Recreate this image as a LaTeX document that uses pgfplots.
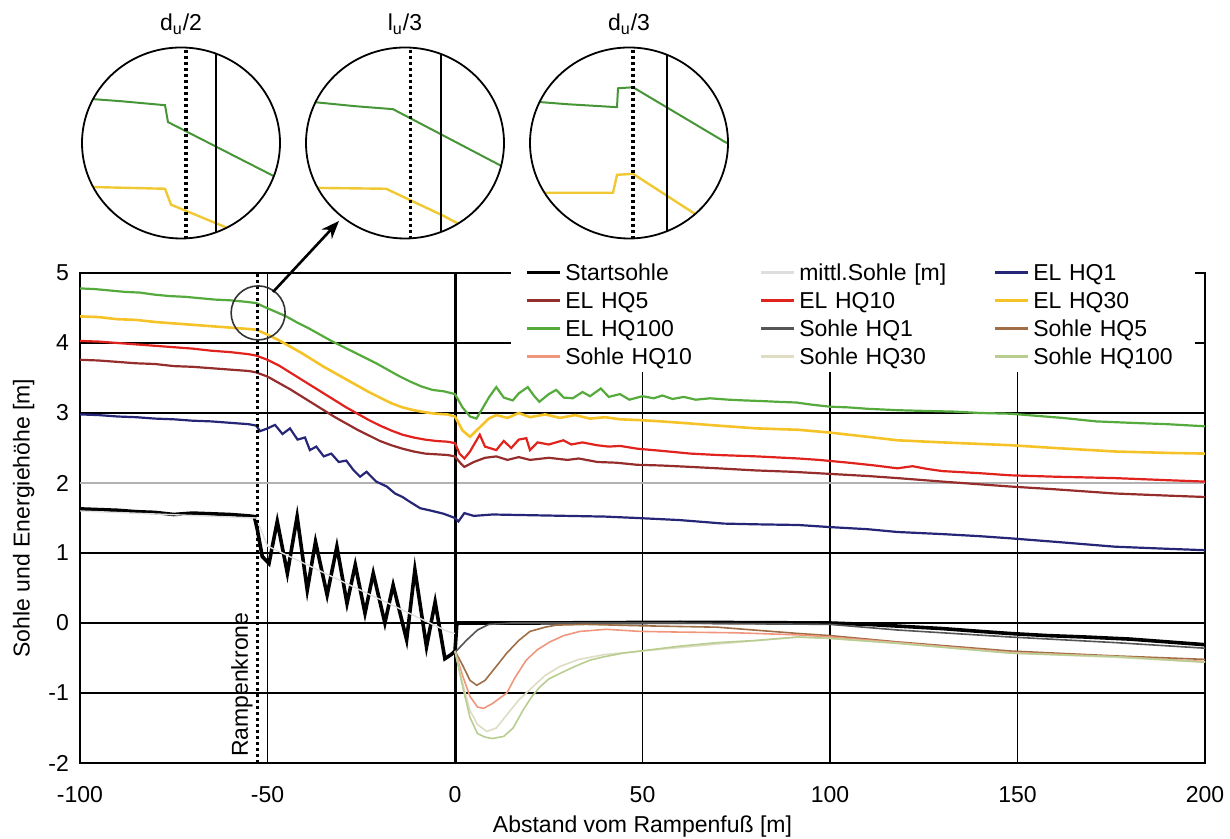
\documentclass[border=0pt]{standalone}
\usepackage{fontspec}
\setmainfont{Liberation Sans}
\usepackage{pgfplots}
\pgfplotsset{compat=1.18}
\usetikzlibrary{arrows.meta}

\definecolor{cHQ1}{RGB}{38,38,120}
\definecolor{cHQ5}{RGB}{150,45,45}
\definecolor{cHQ10}{RGB}{225,35,30}
\definecolor{cHQ30}{RGB}{245,195,40}
\definecolor{cHQ100}{RGB}{85,170,60}
\definecolor{sHQ1}{RGB}{85,85,85}
\definecolor{sHQ5}{RGB}{160,110,70}
\definecolor{sHQ10}{RGB}{240,150,125}
\definecolor{sHQ30}{RGB}{222,220,195}
\definecolor{sHQ100}{RGB}{185,205,145}
\definecolor{mittl}{RGB}{222,222,222}
\definecolor{igreen}{RGB}{70,150,55}
\definecolor{iyellow}{RGB}{240,200,50}

\pgfplotsset{inset/.style={anchor=center,width=99pt,height=95.5pt,scale only axis,
  xmin=-99,xmax=99,ymin=-96,ymax=96,y dir=reverse,hide axis,no markers}}

\begin{document}
\begin{tikzpicture}[font=\fontsize{11.5}{13}\selectfont]
\path[use as bounding box] (0pt,0pt) rectangle (615pt,419.5pt);

\begin{axis}[at={(40pt,38pt)},anchor=south west,
  width=562.5pt,height=245pt,scale only axis,
  xmin=-100,xmax=200,ymin=-2,ymax=5,
  xtick={-100,-50,...,200},ytick={-2,-1,...,5},
  grid=major,major grid style={black,line width=0.75pt},
  axis line style={black,line width=0.9pt},
  tick style={draw=none},no markers,
  /pgf/number format/assume math mode=true,
  xticklabel style={yshift=-8pt},
  yticklabel style={xshift=-2pt},
  xlabel={Abstand vom Rampenfuß [m]},
  ylabel={Sohle und Energiehöhe [m]},
  x label style={at={(axis description cs:0.5,0)},anchor=center,yshift=-32pt},
  y label style={at={(axis description cs:-0.05,0.5)},anchor=center},
  legend columns=3,
  legend image code/.code={\draw[#1,line width=1.5pt] (0pt,0pt) -- (16.5pt,0pt);},
  legend style={at={(axis description cs:0.383,1.035)},anchor=north west,
    draw=none,fill=white,inner xsep=7pt,inner ysep=2pt,row sep=2pt,
    nodes={inner xsep=2pt,inner ysep=1pt,text height=8.9pt,text depth=1.1pt,
      text width=95pt,align=left,anchor=west},
    /tikz/column 6/.style={nodes={text width=72pt}}},
  legend cell align=left]

\draw[gray!60,line width=0.9pt] (axis cs:-100,2) -- (axis cs:200,2);
\draw[black,line width=1.5pt] (axis cs:0,-2) -- (axis cs:0,5);

% Startsohle
\addplot[black,line width=1.8pt] coordinates {
(-100,1.63) (-95,1.62) (-90,1.61) (-85,1.59) (-80,1.58) (-75,1.55) (-70,1.57)
(-65,1.56) (-60,1.55) (-55,1.53) (-53.5,1.52) (-52.7,1.33) (-51.4,0.95)
(-49.6,0.85) (-47.4,1.45) (-44.7,0.71) (-42.1,1.52) (-39.4,0.47) (-37.2,1.16)
(-34.1,0.40) (-31.5,1.09) (-28.8,0.28) (-26.6,0.83) (-24.0,0.14) (-21.8,0.71)
(-18.7,0.0) (-16.5,0.54) (-12.9,-0.24) (-10.7,0.76) (-7.6,-0.34) (-5.3,0.30)
(-2.7,-0.51) (-1,-0.45) (0,-0.40) (0.5,0) (20,0) (60,0.01) (100,0) (110,-0.02)
(120,-0.05) (130,-0.08) (140,-0.12) (148,-0.15) (158,-0.18) (168,-0.2)
(180,-0.23) (190,-0.27) (200,-0.31)};
\addlegendentry{Startsohle}

% mittl. Sohle
\addplot[mittl,line width=0.7pt] coordinates {
(-100,1.6) (-53,1.5) (-50,1.1) (-2,-0.12) (0,-0.15)};
\addlegendentry{mittl.Sohle [m]}

% EL HQ1
\addplot[cHQ1,line width=1.1pt] coordinates {
(-100,2.98) (-95,2.97) (-90,2.95) (-85,2.94) (-80,2.92) (-75,2.91) (-70,2.89)
(-65,2.88) (-60,2.86) (-55,2.84) (-53,2.82) (-52,2.74) (-50,2.78) (-48,2.83)
(-46,2.70) (-44,2.78) (-42,2.62) (-40,2.65) (-38.7,2.47) (-37,2.52) (-35,2.38)
(-33,2.42) (-31,2.30) (-29,2.32) (-27,2.18) (-25.3,2.09) (-23.6,2.16) (-21,2.02)
(-18.2,1.95) (-16,1.85) (-14,1.80) (-12,1.73) (-9.3,1.64) (-6,1.60) (-3,1.56)
(0,1.50) (0.9,1.45) (2.5,1.57) (5,1.53) (10,1.55) (20,1.54) (30,1.53) (40,1.52)
(48.6,1.50) (60,1.47) (71.7,1.42) (80,1.41) (91.6,1.40) (100,1.37) (110,1.34)
(118,1.30) (130,1.27) (140,1.24) (148,1.21) (160,1.16) (176,1.09) (190,1.06)
(200,1.04)};
\addlegendentry{EL HQ1}

% EL HQ5
\addplot[cHQ5,line width=1.1pt] coordinates {
(-100,3.76) (-95,3.75) (-90,3.73) (-85,3.71) (-80,3.70) (-75,3.67) (-70,3.66)
(-65,3.64) (-60,3.62) (-55,3.60) (-53,3.58) (-50,3.52) (-47,3.43) (-44,3.34)
(-41,3.24) (-38,3.14) (-35,3.04) (-32,2.94) (-29,2.85) (-26,2.76) (-23,2.68)
(-20,2.60) (-17,2.54) (-14,2.49) (-11,2.45) (-8,2.42) (-5,2.41) (-2,2.40)
(0,2.38) (1.5,2.28) (2.5,2.23) (5,2.30) (8,2.36) (11,2.38) (14,2.33) (17,2.37)
(20,2.33) (25,2.36) (30,2.33) (33,2.35) (38,2.30) (43,2.29) (48.6,2.26)
(55,2.25) (62.8,2.23) (70,2.21) (80,2.18) (90,2.16) (100,2.13) (110,2.10)
(118,2.07) (130,2.02) (148,1.95) (160,1.91) (176,1.85) (190,1.82) (200,1.80)};
\addlegendentry{EL HQ5}

% EL HQ10
\addplot[cHQ10,line width=1.1pt] coordinates {
(-100,4.03) (-95,4.02) (-90,4.00) (-85,3.98) (-80,3.96) (-75,3.94) (-70,3.92)
(-65,3.89) (-60,3.87) (-55,3.84) (-53,3.82) (-50,3.76) (-47,3.68) (-44,3.58)
(-41,3.48) (-38,3.38) (-35,3.28) (-32,3.18) (-29,3.08) (-26,2.99) (-23,2.90)
(-20,2.82) (-17,2.75) (-14,2.69) (-11,2.65) (-8,2.62) (-5,2.60) (-2,2.59)
(0,2.57) (1.2,2.42) (2.5,2.35) (4,2.45) (6.6,2.69) (8,2.52) (11,2.47) (13,2.60)
(15,2.50) (17,2.62) (19,2.64) (20,2.47) (22,2.58) (25,2.55) (28.9,2.61)
(31,2.55) (34,2.58) (37.8,2.54) (41,2.52) (44,2.53) (48.6,2.49) (55,2.46)
(62.8,2.42) (70,2.40) (80.5,2.38) (91.6,2.35) (97,2.33) (105,2.29) (112,2.25)
(118,2.21) (122,2.24) (126,2.20) (130,2.17) (140,2.14) (148,2.11) (160,2.09)
(176,2.07) (190,2.04) (200,2.02)};
\addlegendentry{EL HQ10}

% EL HQ30
\addplot[cHQ30,line width=1.3pt] coordinates {
(-100,4.38) (-95,4.37) (-90,4.34) (-85,4.33) (-80,4.30) (-75,4.28) (-70,4.26)
(-65,4.24) (-60,4.22) (-55,4.20) (-53,4.19) (-50,4.12) (-47,4.04) (-44,3.95)
(-41,3.86) (-38,3.76) (-35,3.66) (-32,3.57) (-29,3.48) (-26,3.39) (-23,3.30)
(-20,3.22) (-17,3.14) (-14,3.08) (-11,3.04) (-8,3.01) (-5,2.99) (-2,2.98)
(0,2.95) (2,2.75) (4,2.66) (6.7,2.80) (9,2.92) (11,2.97) (14,2.93) (17,3.00)
(20,2.94) (24,2.98) (28,2.93) (32,2.97) (36,2.92) (40,2.94) (44,2.91)
(48.6,2.90) (55,2.88) (62.8,2.85) (70,2.82) (80.5,2.78) (91.6,2.76) (100,2.72)
(110,2.66) (118,2.61) (130,2.58) (148,2.54) (160,2.50) (176,2.45) (190,2.43)
(200,2.42)};
\addlegendentry{EL HQ30}

% EL HQ100
\addplot[cHQ100,line width=1.1pt] coordinates {
(-100,4.78) (-96,4.77) (-92,4.75) (-88,4.73) (-84,4.72) (-80,4.69) (-76,4.67)
(-72,4.66) (-68,4.64) (-64,4.62) (-60,4.61) (-56,4.59) (-53,4.57) (-51,4.52)
(-48,4.45) (-45,4.38) (-42,4.29) (-39,4.21) (-36,4.12) (-33,4.03) (-30,3.95)
(-27,3.87) (-24,3.79) (-21,3.71) (-18,3.62) (-15,3.53) (-12,3.45) (-9,3.38)
(-6,3.33) (-3,3.31) (0,3.27) (2,3.08) (4,2.95) (5.7,2.92) (7.5,3.08) (9,3.22)
(11,3.37) (13,3.22) (15.4,3.18) (17,3.28) (19.4,3.37) (21,3.25) (22.5,3.16)
(25,3.27) (27,3.33) (29,3.22) (31.4,3.21) (34,3.30) (36,3.24) (38.9,3.35)
(41,3.23) (44,3.27) (46.5,3.19) (50,3.24) (53,3.21) (55.3,3.25) (58,3.20)
(61,3.23) (64.2,3.19) (68,3.21) (73,3.19) (77,3.18) (82,3.17) (86,3.16)
(91,3.15) (95,3.12) (100,3.09) (105,3.08) (110,3.06) (118,3.04) (125,3.03)
(133,3.02) (140,3.00) (148,2.99) (155,2.96) (162,2.93) (171,2.88) (180,2.86)
(190,2.84) (200,2.81)};
\addlegendentry{EL HQ100}

% Sohle HQ1
\addplot[sHQ1,line width=0.8pt] coordinates {
(0,-0.42) (3,-0.25) (6,-0.10) (9,-0.02) (15,0) (60,0) (100,-0.02) (118,-0.10)
(148,-0.20) (176,-0.28) (200,-0.36)};
\addlegendentry{Sohle HQ1}

% Sohle HQ5
\addplot[sHQ5,line width=0.8pt] coordinates {
(0,-0.40) (2,-0.60) (4,-0.82) (5.8,-0.89) (8,-0.82) (11,-0.62) (13.8,-0.43)
(17,-0.25) (20,-0.12) (24,-0.06) (27,-0.03) (35,-0.02) (50,-0.04) (70,-0.06)
(91.6,-0.15) (100,-0.18) (118,-0.27) (148,-0.40) (176,-0.47) (200,-0.52)};
\addlegendentry{Sohle HQ5}

% Sohle HQ10
\addplot[sHQ10,line width=0.8pt] coordinates {
(0,-0.40) (2,-0.75) (4,-1.05) (6,-1.20) (7.6,-1.22) (10,-1.15) (13.8,-1.00)
(16,-0.78) (19,-0.53) (22,-0.38) (25.3,-0.27) (29,-0.18) (33.3,-0.12)
(40.4,-0.09) (49.3,-0.12) (60,-0.13) (75,-0.14) (91.6,-0.17) (100,-0.20)
(118,-0.28) (148,-0.42) (176,-0.48) (200,-0.55)};
\addlegendentry{Sohle HQ10}

% Sohle HQ30
\addplot[sHQ30,line width=0.8pt] coordinates {
(0,-0.40) (2,-0.85) (4,-1.25) (6,-1.45) (8.5,-1.55) (11,-1.50) (14,-1.30)
(17,-1.10) (20,-0.95) (24,-0.75) (28,-0.62) (33,-0.52) (40,-0.45) (50,-0.40)
(70,-0.30) (91.6,-0.20) (100,-0.22) (118,-0.29) (148,-0.43) (176,-0.49)
(200,-0.56)};
\addlegendentry{Sohle HQ30}

% Sohle HQ100
\addplot[sHQ100,line width=0.8pt] coordinates {
(0,-0.40) (2,-0.90) (4,-1.35) (6,-1.58) (8,-1.63) (10,-1.65) (13,-1.62)
(15.5,-1.50) (18.2,-1.24) (20.5,-1.05) (22.7,-0.91) (25,-0.80) (28,-0.72)
(32,-0.62) (36,-0.53) (40,-0.48) (44.9,-0.43) (51,-0.39) (60,-0.33) (70,-0.28)
(80,-0.25) (91.6,-0.20) (100,-0.22) (118,-0.29) (148,-0.43) (176,-0.48)
(200,-0.56)};
\addlegendentry{Sohle HQ100}

% Rampenkrone
\addplot[black,line width=1.8pt,dash pattern=on 1.5pt off 1.5pt,forget plot]
  coordinates {(-52.7,-2) (-52.7,5)};
\node[rotate=90,anchor=west,inner sep=0pt] at (axis cs:-56.8,-1.92) {Rampenkrone};
\draw[black!80,line width=0.8pt] (axis cs:-52.5,4.43) circle[radius=13.5pt];
\end{axis}

\draw[black,line width=1.3pt,-{Stealth[length=9pt,width=7pt]}] (136.5pt,273.5pt) -- (169.5pt,309pt);

% inset 1
\begin{scope}
\clip (90.5pt,348pt) ellipse [x radius=49.5pt,y radius=47.75pt];
\begin{axis}[inset,at={(90.5pt,348pt)}]
\addplot[igreen,line width=1pt] coordinates {(-100,-45) (-60,-42) (-16,-38) (-13,-21) (100,37)};
\addplot[iyellow,line width=1.2pt] coordinates {(-100,44) (-16,46) (-10,62) (43,84) (70,98)};
\addplot[black,line width=1.8pt,dash pattern=on 1.5pt off 1.5pt] coordinates {(5,-100) (5,100)};
\addplot[black,line width=0.8pt] coordinates {(35,-100) (35,100)};
\end{axis}
\end{scope}
% inset 2
\begin{scope}
\clip (202.5pt,348pt) ellipse [x radius=49.5pt,y radius=47.75pt];
\begin{axis}[inset,at={(202.5pt,348pt)}]
\addplot[igreen,line width=1pt] coordinates {(-100,-42) (-50,-37) (-12,-34) (100,25)};
\addplot[iyellow,line width=1.2pt] coordinates {(-100,45) (-19,46) (38,73) (70,90)};
\addplot[black,line width=1.8pt,dash pattern=on 1.5pt off 1.5pt] coordinates {(5.6,-100) (5.6,100)};
\addplot[black,line width=0.8pt] coordinates {(36,-100) (36,100)};
\end{axis}
\end{scope}
% inset 3
\begin{scope}
\clip (314.5pt,348pt) ellipse [x radius=49.5pt,y radius=47.75pt];
\begin{axis}[inset,at={(314.5pt,348pt)}]
\addplot[igreen,line width=1pt] coordinates {(-100,-42) (-62,-39) (-12,-36) (-11,-55) (4,-56) (96,-1) (100,1)};
\addplot[iyellow,line width=1.2pt] coordinates {(-100,50) (-16,50) (-12,32) (4,31) (64,70) (100,93)};
\addplot[black,line width=1.8pt,dash pattern=on 1.5pt off 1.5pt] coordinates {(3.7,-100) (3.7,100)};
\addplot[black,line width=0.8pt] coordinates {(37.7,-100) (37.7,100)};
\end{axis}
\end{scope}
\foreach \cx in {90.5,202.5,314.5}{
  \draw[black,line width=0.9pt] (\cx pt,348pt) ellipse [x radius=49.5pt,y radius=47.75pt];}
\node[anchor=base] at (90.5pt,404pt) {d\textsubscript{u}/2};
\node[anchor=base] at (202.5pt,404pt) {l\textsubscript{u}/3};
\node[anchor=base] at (314.5pt,404pt) {d\textsubscript{u}/3};
\end{tikzpicture}
\end{document}
